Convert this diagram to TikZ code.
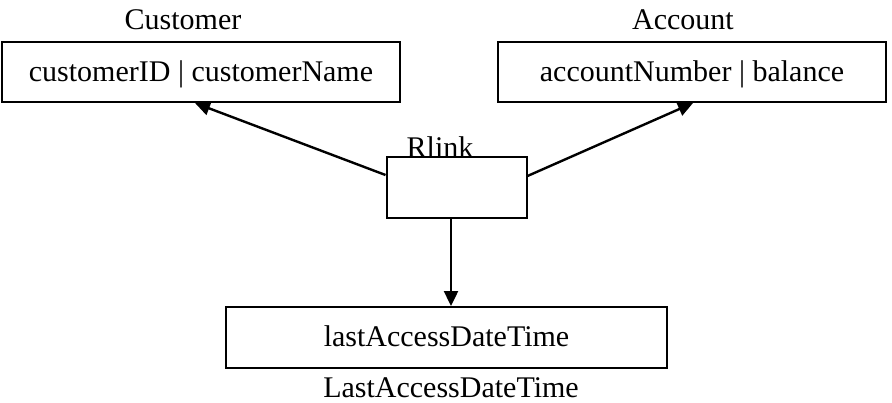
\documentclass[tikz,border=0pt]{standalone}
\usepackage{fontspec}
\setmainfont{Liberation Serif}
\usepackage{tikz}
\usetikzlibrary{arrows.meta, calc}

\begin{document}
\begin{tikzpicture}[x=0.5pt, y=-0.5pt,
    every node/.style={font=\fontsize{15}{18}\selectfont},
    relbox/.style={draw, line width=1pt, inner sep=0pt},
    link/.style={-{Triangle[length=7.5pt, width=7pt]}, line width=1.2pt}]
    \useasboundingbox (0,0) rectangle (892,402);

    % Relation boxes
    \node[relbox, minimum width=199pt, minimum height=30pt, text depth=1pt] (cust) at (201,72) {customerID | customerName};
    \node[relbox, minimum width=194pt, minimum height=30pt, text depth=1pt] (acct) at (692,72) {accountNumber | balance};
    \node[relbox, minimum width=70pt, minimum height=30.5pt] (rlink) at (456.5,187.5) {};
    \node[relbox, minimum width=220.5pt, minimum height=30.5pt, text depth=1pt] (lad) at (446.5,337.5) {lastAccessDateTime};

    % Relation names
    \node (custname) at (183,20) {Customer};
    \node (acctname) at (683,20) {Account};
    \node (rlinkname) at (440,147) {Rlink};
    \node (ladname) at (451,388) {LastAccessDateTime};

    % Links
    \draw[link] ([yshift=6.25pt]rlink.west) -- ([xshift=-3pt]cust.south);
    \draw[link] ([yshift=5.75pt]rlink.east) -- ([xshift=0.5pt]acct.south);
    \draw[link] ([xshift=-2.75pt]rlink.south) -- ([xshift=2.25pt]lad.north);
\end{tikzpicture}
\end{document}
